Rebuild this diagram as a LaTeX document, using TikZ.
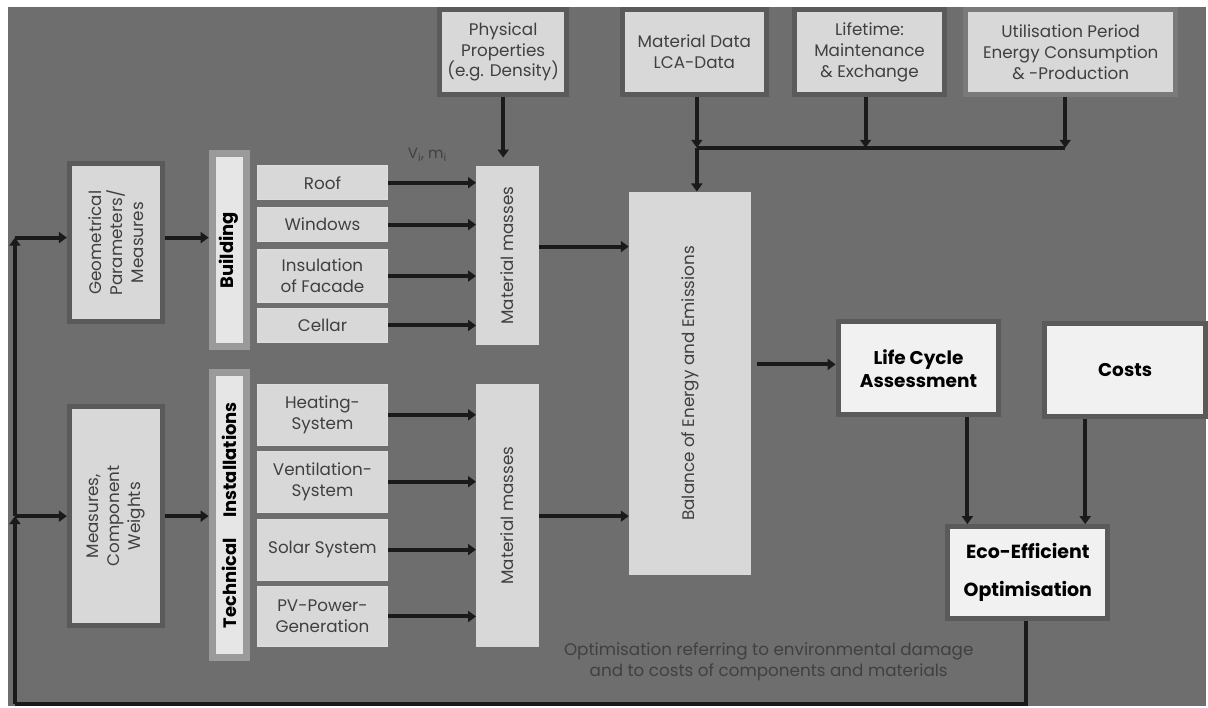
\documentclass[tikz,border=0pt]{standalone}
\usepackage{fontspec}
\setmainfont{Poppins}
\usetikzlibrary{arrows.meta}
\definecolor{bgc}{HTML}{6E6E6E}
\definecolor{boxc}{HTML}{D8D8D8}
\definecolor{bordc}{HTML}{5A5A5A}
\definecolor{ubordc}{HTML}{7A7A7A}
\definecolor{barc}{HTML}{9A9A9A}
\definecolor{barin}{HTML}{E6E6E6}
\definecolor{whitec}{HTML}{F1F1F1}
\definecolor{edgec}{HTML}{DEDEDE}
\definecolor{txtc}{HTML}{404040}
\definecolor{arrc}{HTML}{1A1A1A}
\begin{document}
\begin{tikzpicture}[x=1pt,y=-1pt,
  txt/.style={text=txtc, font=\fontsize{16.8}{21}\selectfont, align=center},
  btxt/.style={text=black, font=\bfseries\fontsize{18}{22}\selectfont, align=center},
  bx/.style={draw=bordc, line width=5pt, fill=boxc, inner sep=0pt},
  wbx/.style={draw=bordc, line width=5pt, fill=whitec, inner sep=0pt},
  plainbox/.style={draw=edgec, line width=1pt, fill=boxc, inner sep=0pt},
  barbox/.style={draw=barc, line width=7pt, fill=barin, inner sep=0pt},
  arr/.style={draw=arrc, line width=4pt, -{Triangle[length=8pt,width=11pt]}},
  ln/.style={draw=arrc, line width=4pt}]
\fill[white] (0,0) rectangle (1208,709);
\fill[bgc] (8,7) rectangle (1208,707);

% top input boxes
\node[bx, minimum width=127pt, minimum height=85pt, txt] (phys) at (504,52) {Physical\\Properties\\(e.g. Density)};
\node[bx, minimum width=144pt, minimum height=85pt, txt] (matd) at (695.5,52) {Material Data\\LCA-Data};
\node[bx, minimum width=151pt, minimum height=85pt, txt] (life) at (871,52) {Lifetime:\\Maintenance\\\& Exchange};
\node[bx, draw=ubordc, minimum width=210pt, minimum height=85pt, txt] (util) at (1072.5,52) {Utilisation Period\\Energy Consumption\\\& -Production};

% left column
\node[bx, minimum width=93pt, minimum height=159pt] (geo) at (116,243) {};
\node[txt, rotate=90] at (geo) {Geometrical\\Parameters/\\Measures};
\node[bx, minimum width=93pt, minimum height=219pt] (meas) at (116,517) {};
\node[txt, rotate=90] at (meas) {Measures,\\Component\\Weights};

% bars
\node[barbox, minimum width=34pt, minimum height=194pt] (bldg) at (229.5,250.5) {};
\node[btxt, rotate=90] at (bldg) {Building};
\node[barbox, minimum width=34pt, minimum height=286pt] (tech) at (229.5,516) {};
\node[btxt, rotate=90] at (tech) {Technical\hspace{20pt}Installations};

% components
\node[plainbox, minimum width=130pt, minimum height=34pt, txt] (roof) at (323,183) {Roof};
\node[plainbox, minimum width=130pt, minimum height=34pt, txt] (win) at (323,225) {Windows};
\node[plainbox, minimum width=130pt, minimum height=53pt, txt] (ins) at (323,276.5) {Insulation\\of Facade};
\node[plainbox, minimum width=130pt, minimum height=34pt, txt] (cel) at (323,326) {Cellar};
\node[plainbox, minimum width=130pt, minimum height=61pt, txt] (heat) at (323,415.5) {Heating-\\System};
\node[plainbox, minimum width=130pt, minimum height=61pt, txt] (vent) at (323,482.5) {Ventilation-\\System};
\node[plainbox, minimum width=130pt, minimum height=61pt, txt] (sol) at (323,550.5) {Solar System};
\node[plainbox, minimum width=130pt, minimum height=61pt, txt] (pv) at (323,617.5) {PV-Power-\\Generation};

% material masses
\node[fill=boxc, inner sep=0pt, minimum width=63pt, minimum height=180pt] (mm1) at (508.5,256) {};
\node[txt, rotate=90] at (mm1) {Material masses};
\node[fill=boxc, inner sep=0pt, minimum width=63pt, minimum height=263pt] (mm2) at (508.5,516.5) {};
\node[txt, rotate=90] at (mm2) {Material masses};

% balance
\node[fill=boxc, inner sep=0pt, minimum width=122pt, minimum height=384pt] (bal) at (691,384) {};
\node[txt, rotate=90] at (bal) {Balance of Energy and Emissions};

% results
\node[wbx, minimum width=161pt, minimum height=93pt, btxt, font=\bfseries\fontsize{18.5}{23}\selectfont] (lca) at (920,369) {Life Cycle\\Assessment};
\node[wbx, minimum width=161pt, minimum height=93pt, btxt, font=\bfseries\fontsize{18.5}{23}\selectfont] (cost) at (1127,371) {Costs};
\node[wbx, minimum width=160pt, minimum height=92pt, btxt, font=\bfseries\fontsize{19}{38}\selectfont] (eco) at (1029.5,573.5) {Eco-Efficient\\Optimisation};

% labels
\node[txt, font=\fontsize{15}{17}\selectfont] (vm) at (428,155) {V\textsubscript{i}, m\textsubscript{i}};
\node[txt] (note) at (770,663) {Optimisation referring to environmental damage\\and to costs of components and materials};

% coordinates
\coordinate (j1) at (15,238);
\coordinate (j2) at (15,517);
\coordinate (jb) at (15,705);
\coordinate (jt) at (698,148);
\coordinate (ju) at (1067,148);

% arrows: components to material masses
\foreach \n in {roof,win,ins,cel}{\draw[arr] (\n.east) -- (\n.east -| mm1.west);}
\foreach \n in {heat,vent,sol,pv}{\draw[arr] (\n.east) -- (\n.east -| mm2.west);}
\draw[arr] (phys.south) -- ([yshift=8pt]mm1.north -| phys.south);
\draw[arr] (mm1.east |- 0,247) -- (bal.west |- 0,247);
\draw[arr] (mm2.east |- 0,517) -- (bal.west |- 0,517);
\draw[arr] (geo.east |- j1) -- (bldg.west |- j1);
\draw[arr] (meas.east |- j2) -- (tech.west |- j2);

% top collectors
\draw[arr] (matd.south -| jt) -- (jt);
\draw[arr] (jt) -- (bal.north -| jt);
\draw[arr] (life.south -| 867,0) -- (867,148);
\draw[arr] (util.south -| ju) -- (ju);
\draw[ln, line width=3.5pt] (jt) -- (ju);

% to LCA and optimisation
\draw[arr] ([xshift=6pt]bal.east |- 0,365) -- (lca.west |- 0,365);
\draw[arr] (lca.south -| 969,0) -- (eco.north -| 969,0);
\draw[arr] (cost.south -| 1087,0) -- (eco.north -| 1087,0);

% feedback loop
\draw[ln] (eco.south -| 1028,0) -- (1028,705) -- (jb);
\draw[arr, line width=3.5pt] (jb) -- (j2);
\draw[arr, line width=3.5pt] (j2) -- (j1);
\draw[arr] (j1) -- (j1 -| geo.west);
\draw[arr] (j2) -- (j2 -| meas.west);
\end{tikzpicture}
\end{document}
